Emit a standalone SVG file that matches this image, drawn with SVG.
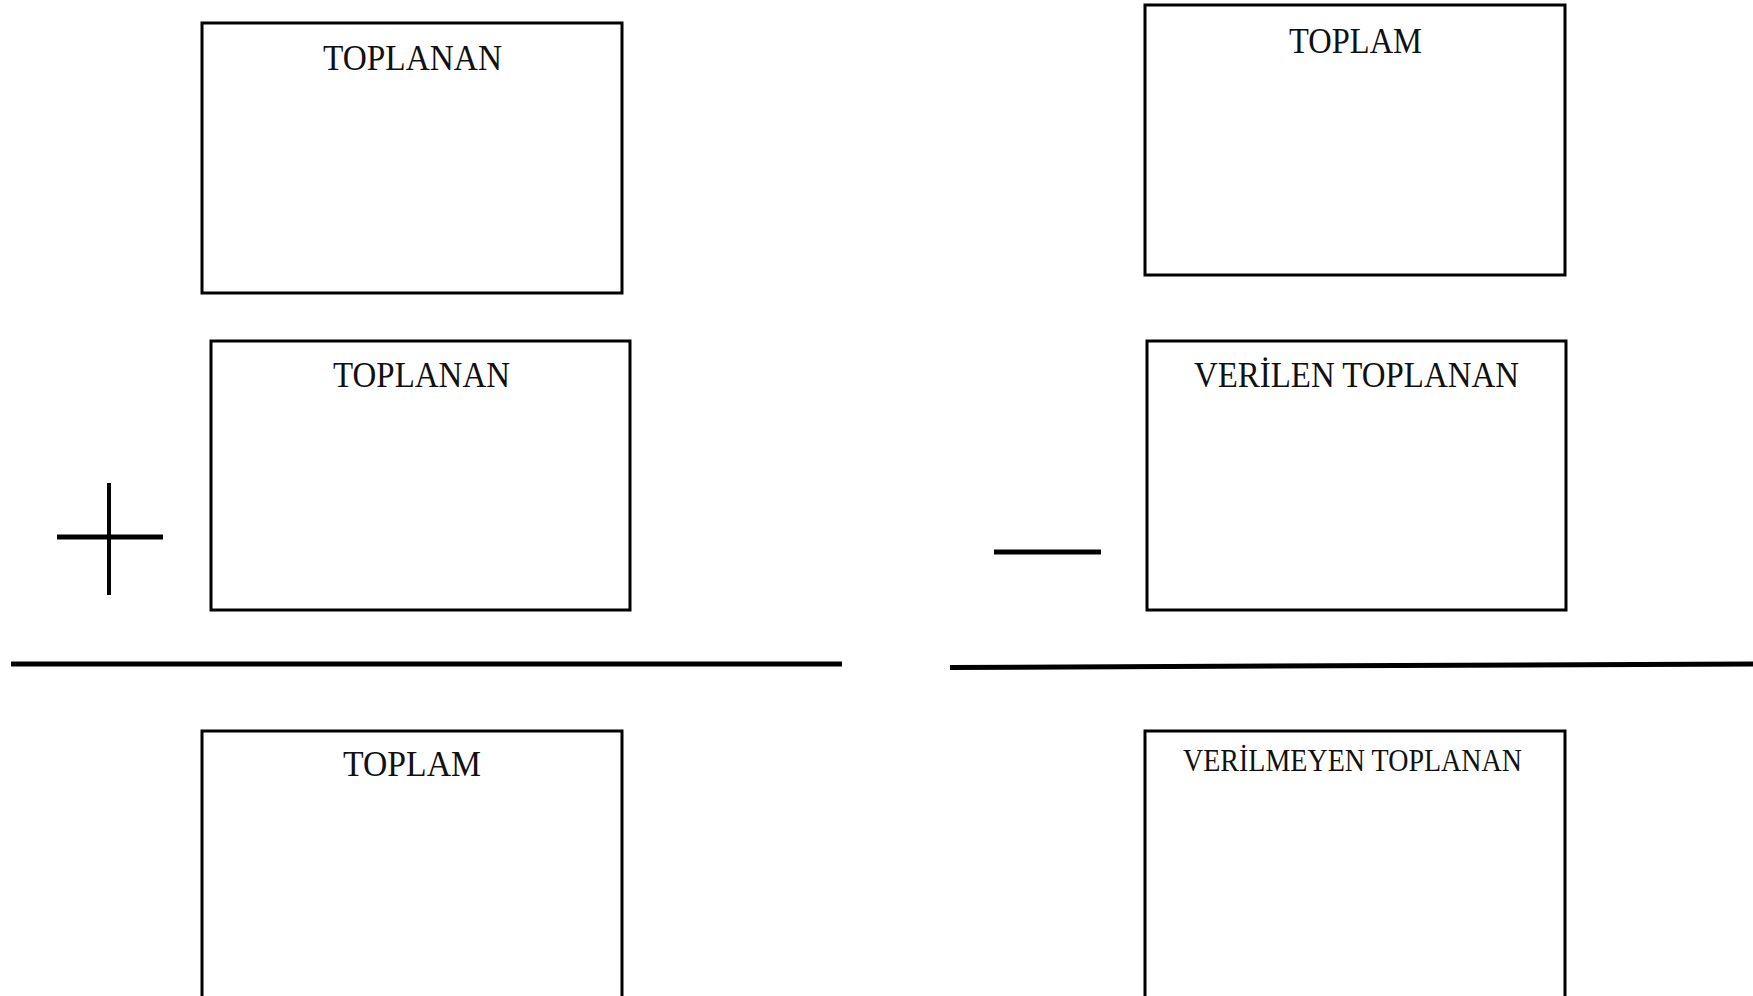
<svg xmlns="http://www.w3.org/2000/svg" width="1753" height="996" viewBox="0 0 1753 996">
<style>
.box{fill:#fff;stroke:#000;stroke-width:3}
.lbl{font-family:"Liberation Serif","Times New Roman",serif;fill:#111;font-size:36px}
.sm{font-size:31px}
.ln{stroke:#000;fill:none}
</style>
<rect width="1753" height="996" fill="#fff"/>
<g id="node-toplanan1">
<rect class="box" x="202" y="23" width="420" height="270"/>
<text class="lbl" x="323" y="70" textLength="179" lengthAdjust="spacingAndGlyphs">TOPLANAN</text>
</g>
<g id="node-toplanan2">
<rect class="box" x="211" y="341" width="419" height="269"/>
<text class="lbl" x="333" y="387" textLength="177" lengthAdjust="spacingAndGlyphs">TOPLANAN</text>
</g>
<g id="node-toplam-left">
<rect class="box" x="202" y="731" width="420" height="300"/>
<text class="lbl" x="343" y="776" textLength="138" lengthAdjust="spacingAndGlyphs" style="font-size:35px">TOPLAM</text>
</g>
<g id="node-toplam-right">
<rect class="box" x="1145" y="5" width="420" height="270"/>
<text class="lbl" x="1289" y="53" textLength="133" lengthAdjust="spacingAndGlyphs">TOPLAM</text>
</g>
<g id="node-verilen">
<rect class="box" x="1147" y="341" width="419" height="269"/>
<text class="lbl" x="1194" y="387" textLength="325" lengthAdjust="spacingAndGlyphs">VERİLEN TOPLANAN</text>
</g>
<g id="node-verilmeyen">
<rect class="box" x="1145" y="731" width="420" height="300"/>
<text class="lbl sm" x="1183" y="771" textLength="339" lengthAdjust="spacingAndGlyphs">VERİLMEYEN TOPLANAN</text>
</g>
<g id="connectors">
<line class="ln" x1="57" y1="537" x2="163" y2="537" stroke-width="5"/>
<line class="ln" x1="109" y1="483" x2="109" y2="595" stroke-width="4"/>
<line class="ln" x1="11" y1="664" x2="842" y2="664" stroke-width="5"/>
<line class="ln" x1="994" y1="552" x2="1101" y2="552" stroke-width="5"/>
<line class="ln" x1="950" y1="667.5" x2="1753" y2="664" stroke-width="5"/>
</g>
</svg>
